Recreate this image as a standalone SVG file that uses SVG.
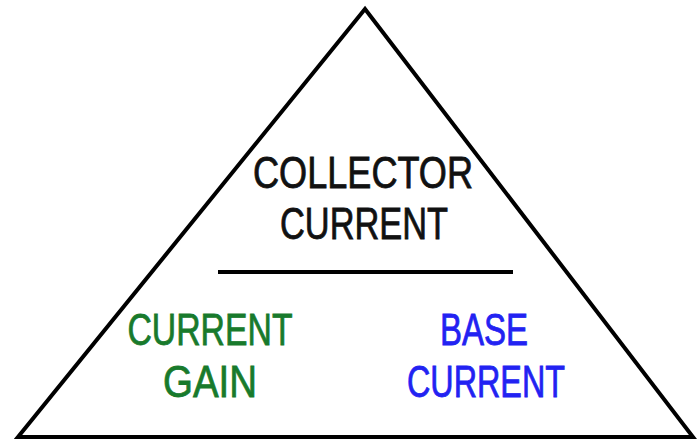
<svg xmlns="http://www.w3.org/2000/svg" width="697" height="440" viewBox="0 0 697 440">
<style>
.t{font-family:"Liberation Sans",Arial,sans-serif;font-size:44px;text-anchor:middle;stroke-width:0.8}
.k{fill:#111;stroke:#111}
.g{fill:#187a2c;stroke:#187a2c}
.b{fill:#2222f2;stroke:#2222f2}
</style>
<rect width="697" height="440" fill="#fff"/>
<g id="triangle">
<polygon points="365,9 18,437 693,437" fill="none" stroke="#000" stroke-width="4" stroke-linejoin="miter"/>
</g>
<g id="connectors">
<line x1="218" y1="272" x2="513" y2="272" stroke="#000" stroke-width="4"/>
</g>
<g id="collector-current">
<text class="t k" x="363" y="188" textLength="220" lengthAdjust="spacingAndGlyphs">COLLECTOR</text>
<text class="t k" x="364" y="239" textLength="168" lengthAdjust="spacingAndGlyphs">CURRENT</text>
</g>
<g id="current-gain">
<text class="t g" x="210" y="345" textLength="165" lengthAdjust="spacingAndGlyphs">CURRENT</text>
<text class="t g" x="210" y="397" textLength="94" lengthAdjust="spacingAndGlyphs">GAIN</text>
</g>
<g id="base-current">
<text class="t b" x="484" y="345" textLength="88" lengthAdjust="spacingAndGlyphs">BASE</text>
<text class="t b" x="486" y="397" textLength="158" lengthAdjust="spacingAndGlyphs">CURRENT</text>
</g>
</svg>
